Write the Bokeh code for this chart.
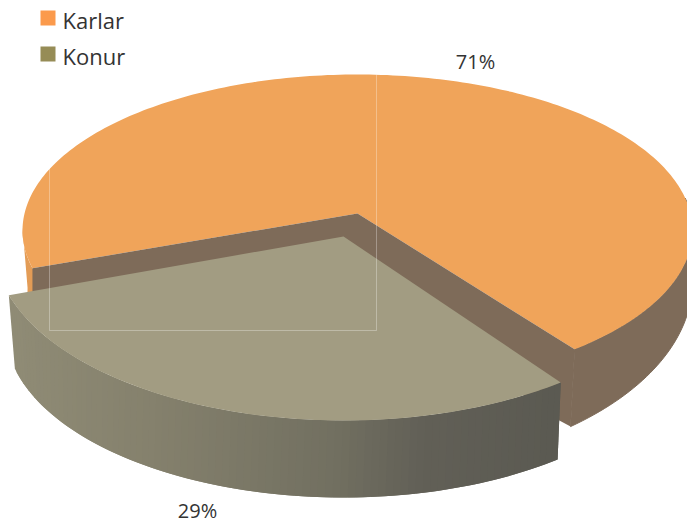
import numpy as np
from bokeh.plotting import figure
from bokeh.models import Range1d
from bokeh.core.properties import value
from bokeh.embed import file_html
from bokeh.resources import INLINE

categories = ["Karlar", "Konur"]
shares = [71, 29]
legend_colors = ["#fb9a4c", "#968c56"]
top_colors = ["#f0a45a", "#a29c82"]
wall_color = "#7e6b59"
text_color = "#333333"
FONT = "Open Sans"


def ell(c, deg):
    a = np.radians(np.asarray(deg, dtype=float))
    return c[0] + c[2] * np.cos(a), c[1] + c[3] * np.sin(a)


# ellipses as (cx, cy, rx, ry)
MAIN_TOP = (357, 230, 335, 156)
MAIN_BOT = (357, 281, 335, 188)
KON_TOP = (343, 245, 349, 175)
KON_BOT = (343, 329, 338, 168)
MAIN_APEX = (357, 213)
KON_APEX = (343, 236)

frac = shares[1] / sum(shares)
# the view's perspective widens the near slice's sweep
m0, m1 = 49.6, 49.6 + 360 * frac * 1.115
k0, k1 = 51.5, 51.5 + 360 * frac * 1.073
kb0, kb1 = 50.7, 50.7 + 360 * frac * 1.109

p = figure(width=687, height=525, output_backend="svg", toolbar_location=None,
           x_range=Range1d(0, 687), y_range=Range1d(525, 0),
           min_border=0, outline_line_color=None, background_fill_color="white",
           border_fill_color="white")
p.axis.visible = False
p.grid.visible = False

# outer wall of the large slice, right side
tt = np.linspace(-12, m0, 50)
bb = np.linspace(50.5, -15, 50)
tx, ty = ell(MAIN_TOP, tt)
bx, by = ell(MAIN_BOT, bb)
p.patch(np.r_[tx, bx], np.r_[ty, by], fill_color=wall_color, line_color=wall_color, line_width=1)

# outer wall, left sliver
lt = np.linspace(m1 - 1, 181, 12)
lx, ly = ell(MAIN_TOP, lt)
p.patch(np.r_[lx, (lx + 5)[::-1]], np.r_[ly, (ly + 60)[::-1]], fill_color="#e39c56", line_color=None)

# top of the large slice
aa = np.linspace(m1, m0 + 360, 240)
ax, ay = ell(MAIN_TOP, aa)
p.patch(np.r_[MAIN_APEX[0], ax], np.r_[MAIN_APEX[1], ay], fill_color=top_colors[0], line_color=None)

# inner walls revealed by the pulled-out slice
rx0, ry0 = ell(MAIN_TOP, m0)
lx0, ly0 = ell(MAIN_TOP, m1)
rbx, rby = ell(MAIN_BOT, 50.5)
p.patch([lx0, MAIN_APEX[0], rx0, rbx, rbx - 15, KON_APEX[0], lx0],
        [ly0, MAIN_APEX[1], ry0, rby, rby - 8, KON_APEX[1] + 30, ly0 + 40],
        fill_color=wall_color, line_color=None)

# wall of the small slice: vertical bands shaded left to right
stops_x = [8, 150, 330, 420, 560]
stops_r = [0x90, 0x85, 0x72, 0x62, 0x5b]
stops_g = [0x8c, 0x81, 0x70, 0x60, 0x5a]
stops_b = [0x76, 0x6d, 0x61, 0x57, 0x52]
N = 90
ft = np.linspace(k1, k0, N + 1)
fb = np.linspace(kb1, kb0, N + 1)
xs, ys, cs = [], [], []
for i in range(N):
    j = min(i + 2, N)
    x0, y0 = ell(KON_TOP, ft[i])
    x1, y1 = ell(KON_TOP, ft[j])
    x2, y2 = ell(KON_BOT, fb[j])
    x3, y3 = ell(KON_BOT, fb[i])
    xm = (x0 + x3) / 2
    xs.append([x0, x1, x2, x3])
    ys.append([y0, y1, y2, y3])
    cs.append("#%02x%02x%02x" % (int(np.interp(xm, stops_x, stops_r)),
                                 int(np.interp(xm, stops_x, stops_g)),
                                 int(np.interp(xm, stops_x, stops_b))))
p.patches(xs, ys, fill_color=cs, line_color=None)

# top of the small slice
ka = np.linspace(k0, k1, 120)
kx, ky = ell(KON_TOP, ka)
p.patch(np.r_[KON_APEX[0], kx], np.r_[KON_APEX[1], ky], fill_color=top_colors[1], line_color=None)

# faint plot-area frame
p.line([49, 49, 376, 376], [165, 330, 330, 74], line_color="#ffffff", line_alpha=0.3, line_width=1)

# legend
p.rect([47.5, 47.5], [17.5, 53.5], width=15, height=15, fill_color=legend_colors, line_color=None)
p.text([62, 62], [19, 55], text=categories, text_font=value(FONT), text_font_size="22px",
       text_color=text_color, text_baseline="middle")

# value labels
p.text([475, 197], [61, 510], text=[f"{v}%" for v in shares], text_font=value(FONT),
       text_font_size="20px", text_color=text_color, text_align="center", text_baseline="middle")

open("out.html", "w").write(file_html(p, INLINE))
